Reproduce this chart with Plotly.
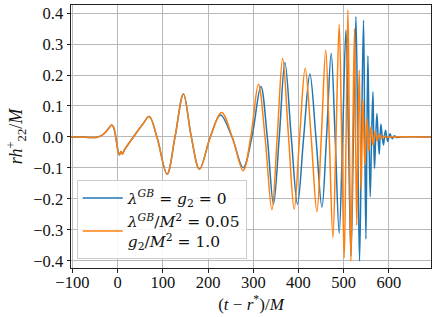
import plotly.graph_objects as go

# Shared early part (both runs coincide), time in M, strain rh/M
t_common = [-103, -80, -60, -45, -32, -20, -13, -9, -5, -2, 2, 4, 7.5, 10.5, 15,
            35, 55, 70, 87, 109.5, 127, 145.6, 163, 181, 205]
h_common = [0.0, 0.0, -0.002, -0.001, 0.008, 0.027, 0.039, 0.032, 0.008, -0.02,
            -0.052, -0.058, -0.047, -0.055, -0.042, 0.0, 0.04, 0.066, 0.0, -0.12,
            0.0, 0.139, 0.0, -0.104, 0.0]

# GR run (lambda_GB = g2 = 0)
t_gr = [227.5, 253, 277.7, 297, 316.8, 331, 344.7, 357.5, 370, 384, 397.8, 411.5,
        425.2, 438.5, 451.8, 462, 472.3, 481, 490, 497.5, 504.9, 510.5, 516, 521.5,
        527, 531, 535, 539.4, 543.8, 546.5, 549.1, 551.3, 553.5, 556, 558.6, 561.6,
        564.6, 566.3, 568.1, 570.8, 573.5, 576, 578.5, 580.4, 582.3, 585.2, 588, 590,
        592.5, 595, 597.5, 600, 602.5, 605, 607.5, 610, 612.5, 615, 617.5, 625, 693]
h_gr = [0.071, 0.0, -0.099, 0.0, 0.163, 0.0, -0.216, 0.0, 0.24, 0.0, -0.217, 0.0,
        0.203, 0.0, -0.227, 0.0, 0.27, 0.0, -0.311, 0.0, 0.345, 0.0, -0.385, 0.0,
        0.388, 0.0, -0.4, 0.0, 0.377, 0.0, -0.329, 0.0, 0.262, 0.0, -0.193, 0.0,
        0.146, 0.0, -0.101, 0.0, 0.076, 0.0, -0.056, 0.0, 0.041, 0.0, -0.026, 0.0,
        0.022, 0.0, -0.015, 0.0, 0.01, 0.0, -0.006, 0.0, 0.004, 0.0, -0.002, 0.0, 0.0]

# Gauss-Bonnet run (lambda_GB/M^2 = 0.05, g2/M^2 = 1.0)
t_gb = [230, 253.5, 277.7, 294.5, 311.5, 326, 341.2, 353, 365, 378, 390.5, 402.5,
        414.8, 428, 440.7, 450.5, 460.2, 468, 476.1, 483, 490, 495.5, 501.1, 505.2,
        509.3, 512.6, 516, 520, 523.9, 526.3, 528.8, 531.5, 534.3, 536.5, 538.7,
        540.6, 542.5, 544.7, 546.9, 549.1, 551.3, 553.5, 555.8, 558, 560.2, 562.4,
        564.6, 567.1, 569.7, 571.8, 574, 576.5, 579, 581.5, 584, 586.5, 589, 591.5,
        594, 600, 693]
h_gb = [0.079, 0.0, -0.109, 0.0, 0.17, 0.0, -0.235, 0.0, 0.254, 0.0, -0.233, 0.0,
        0.222, 0.0, -0.241, 0.0, 0.281, 0.0, -0.325, 0.0, 0.363, 0.0, -0.39, 0.0,
        0.41, 0.0, -0.4, 0.0, 0.35, 0.0, -0.285, 0.0, 0.216, 0.0, -0.17,
        0.0, 0.119, 0.0, -0.09, 0.0, 0.06, 0.0, -0.045, 0.0, 0.033, 0.0,
        -0.025, 0.0, 0.017, 0.0, -0.012, 0.0, 0.008, 0.0, -0.005, 0.0, 0.003, 0.0,
        -0.002, 0.0, 0.0]

x_ticks = [-100, 0, 100, 200, 300, 400, 500, 600]
y_ticks = [-0.4, -0.3, -0.2, -0.1, 0.0, 0.1, 0.2, 0.3, 0.4]

SP = "\u00a0"
EQ = SP + "=" + SP
name_gr = "<i>λ</i><sup><i>GB</i></sup>" + EQ + "<i>g</i><sub>2</sub>" + EQ + "0"
name_gb = ("<i>λ</i><sup><i>GB</i></sup>/<i>M</i><sup>2</sup>" + EQ + "0.05<br>"
           + "<i>g</i><sub>2</sub>/<i>M</i><sup>2</sup>" + EQ + "1.0")

FONT = "Liberation Serif"

fig = go.Figure()
fig.add_trace(go.Scatter(x=t_common + t_gr, y=h_common + h_gr, mode="lines",
                         name=name_gr,
                         line=dict(color="#1f77b4", width=1.5, shape="spline", smoothing=1.0)))
fig.add_trace(go.Scatter(x=t_common + t_gb, y=h_common + h_gb, mode="lines",
                         name=name_gb,
                         line=dict(color="#ff7f0e", width=1.5, shape="spline", smoothing=1.0)))

axis_common = dict(showline=True, mirror=True, linecolor="#222222", linewidth=1,
                   ticks="outside", ticklen=3.5, tickcolor="#222222",
                   showgrid=True, gridcolor="#b8b8b8", gridwidth=1, zeroline=False,
                   tickfont=dict(family=FONT, size=16.5, color="#111111"))

fig.update_layout(
    width=436, height=317,
    margin=dict(l=71, r=5, t=5, b=49, autoexpand=False),
    paper_bgcolor="white", plot_bgcolor="white",
    font=dict(family=FONT, size=16, color="#111111"),
    xaxis=dict(range=[-103, 693], tickvals=x_ticks,
               ticktext=[("−" + str(-v)) if v < 0 else str(v) for v in x_ticks],
               ticklabelstandoff=-4,
               title=dict(text="(<i>t</i> − <i>r</i><sup>*</sup>)/<i>M</i>", standoff=3,
                          font=dict(family=FONT, size=17)),
               automargin=False, **axis_common),
    yaxis=dict(range=[-0.423, 0.426], tickvals=y_ticks, tickformat=".1f",
               title=dict(text="<i>rh</i><sup>+</sup><sub>22</sub>/<i>M</i>", standoff=5,
                          font=dict(family=FONT, size=18)),
               automargin=False, **axis_common),
    legend=dict(x=0.016, y=0.033, xanchor="left", yanchor="bottom",
                bgcolor="rgba(255,255,255,0.85)", bordercolor="#cccccc", borderwidth=1,
                font=dict(family="DejaVu Serif", size=15.5, color="#111111"),
                itemwidth=40),
    showlegend=True,
)

fig.write_html("out.html", config={"displayModeBar": False},
               post_script="document.body.style.margin='0';document.body.style.overflow='hidden';")
